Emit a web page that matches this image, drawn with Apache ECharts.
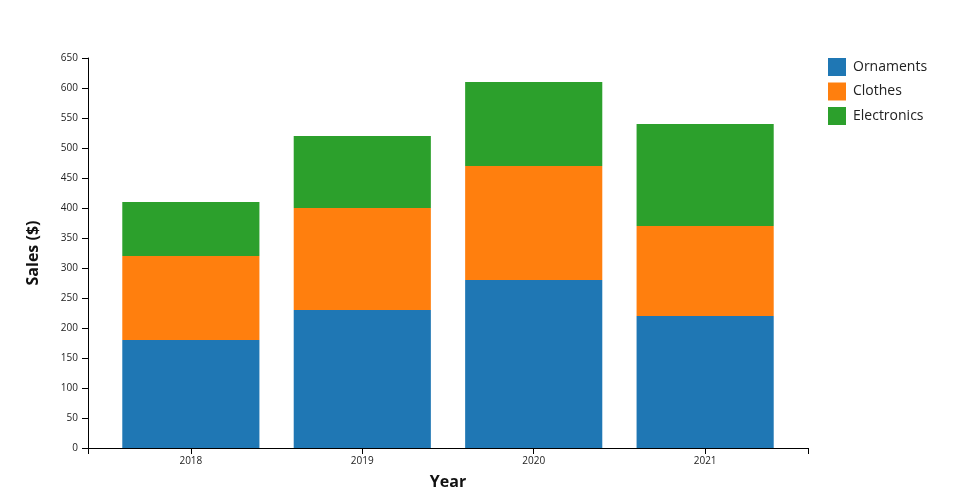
<!DOCTYPE html>
<html>
<head>
<meta charset="utf-8">
<script src="https://cdn.jsdelivr.net/npm/echarts@6/dist/echarts.min.js"></script>
<style>html,body{margin:0;padding:0;background:#fff}#c{width:960px;height:500px}</style>
</head>
<body>
<div id="c"></div>
<script>
var years = ['2018', '2019', '2020', '2021'];
var ornaments = [180, 230, 280, 220];
var clothes = [140, 170, 190, 150];
var electronics = [90, 120, 140, 170];
var yTicks = [0, 650, 50];

var FONT = '"Open Sans", sans-serif';
var chart = echarts.init(document.getElementById('c'), null, {renderer: 'canvas'});
var step = 720 / 4.2;
var innerW = step * 4;
var innerLeft = 88 + (720 - innerW) / 2;

function bar(name, data, color) {
  return {
    name: name, type: 'bar', stack: 's', data: data,
    xAxisIndex: 1, yAxisIndex: 1, barCategoryGap: '20%',
    itemStyle: {color: color}, emphasis: {disabled: true}
  };
}

chart.setOption({
  animation: false,
  textStyle: {fontFamily: FONT},
  grid: [
    {left: 88, width: 720, top: 58, height: 390, containLabel: false, outerBoundsMode: 'none'},
    {left: innerLeft, width: innerW, top: 58, height: 390, containLabel: false, outerBoundsMode: 'none'}
  ],
  legend: {
    orient: 'vertical', left: 823, top: 53,
    itemWidth: 18, itemHeight: 18, itemGap: 6.5,
    icon: 'rect',
    textStyle: {fontSize: 14, color: '#222', fontFamily: FONT, padding: [0, 0, 0, 2]},
    data: ['Ornaments', 'Clothes', 'Electronics']
  },
  xAxis: [
    {
      type: 'value', gridIndex: 0, min: 0, max: 1, interval: 1,
      axisLine: {show: true, onZero: false, lineStyle: {color: '#000', width: 1}},
      axisTick: {show: true, length: 6, lineStyle: {color: '#000'}},
      axisLabel: {show: false}, splitLine: {show: false},
      name: 'Year', nameLocation: 'middle', nameGap: 26,
      nameTextStyle: {fontSize: 16, fontWeight: 'bold', color: '#111', fontFamily: FONT}
    },
    {
      type: 'category', gridIndex: 1, data: years,
      axisLine: {show: false},
      axisTick: {show: true, alignWithLabel: true, length: 6, lineStyle: {color: '#000'}},
      axisLabel: {fontSize: 10, color: '#222', margin: 8, fontFamily: FONT},
      splitLine: {show: false}
    }
  ],
  yAxis: [
    {
      type: 'value', gridIndex: 0, min: yTicks[0], max: yTicks[1], interval: yTicks[2],
      axisLine: {show: true, lineStyle: {color: '#000', width: 1}},
      axisTick: {show: true, length: 6, lineStyle: {color: '#000'}},
      axisLabel: {fontSize: 10, color: '#222', margin: 10, fontFamily: FONT},
      splitLine: {show: false},
      name: 'Sales ($)', nameLocation: 'middle', nameGap: 47,
      nameTextStyle: {fontSize: 16, fontWeight: 'bold', color: '#111', fontFamily: FONT}
    },
    {
      type: 'value', gridIndex: 1, min: yTicks[0], max: yTicks[1], interval: yTicks[2],
      show: false
    }
  ],
  series: [
    bar('Ornaments', ornaments, '#1f77b4'),
    bar('Clothes', clothes, '#ff7f0e'),
    bar('Electronics', electronics, '#2ca02c')
  ]
});
</script>
</body>
</html>
